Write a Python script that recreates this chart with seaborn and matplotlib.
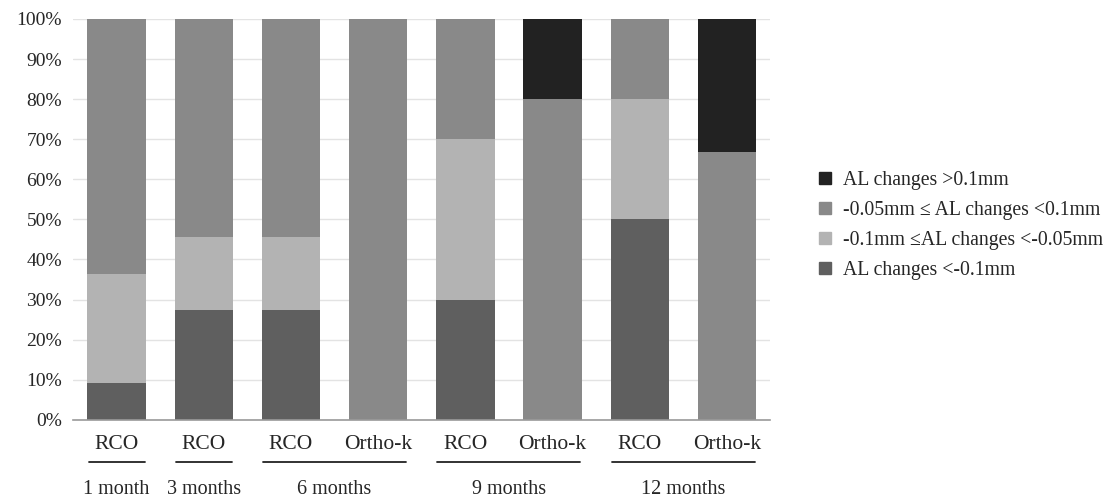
import matplotlib
matplotlib.use("Agg")
import matplotlib.pyplot as plt
import matplotlib.transforms as mtransforms
from matplotlib.lines import Line2D
import seaborn as sns
import pandas as pd
import numpy as np

# ---- data ----
bar_labels = ["RCO", "RCO", "RCO", "Ortho-k", "RCO", "Ortho-k", "RCO", "Ortho-k"]
groups = ["1 month", "3 months", "6 months", "6 months", "9 months", "9 months", "12 months", "12 months"]
series_names = ["AL changes <-0.1mm",
                "-0.1mm \u2264AL changes <-0.05mm",
                "-0.05mm \u2264 AL changes <0.1mm",
                "AL changes >0.1mm"]
s_lt_m01 = [9.1, 27.3, 27.3, 0.0, 30.0, 0.0, 50.0, 0.0]
s_m01_m005 = [27.3, 18.2, 18.2, 0.0, 40.0, 0.0, 30.0, 0.0]
s_m005_01 = [63.6, 54.5, 54.5, 100.0, 30.0, 80.0, 20.0, 66.7]
s_gt_01 = [0.0, 0.0, 0.0, 0.0, 0.0, 20.0, 0.0, 33.3]
colors = ["#5f5f5f", "#b3b3b3", "#898989", "#222222"]

sns.set_style("white")
plt.rcParams['font.family'] = ['Liberation Serif', 'DejaVu Serif']

fig = plt.figure(figsize=(11.07, 4.98), dpi=100)
ax = fig.add_axes([0.066, 0.157, 0.630, 0.805])

keys = [str(i) for i in range(len(bar_labels))]
series = [s_lt_m01, s_m01_m005, s_m005_01, s_gt_01]
cum = np.cumsum(np.array(series), axis=0)

# draw from top (largest cumulative) to bottom so lower segments overlay
for k in range(len(series) - 1, -1, -1):
    df = pd.DataFrame({"bar": keys, "val": cum[k]})
    sns.barplot(data=df, x="bar", y="val", order=keys, color=colors[k],
                saturation=1, width=0.67, ax=ax, zorder=2 + (3 - k) * 0.01,
                edgecolor="none", linewidth=0)

ax.set_ylim(0, 100)
ax.set_xlim(-0.5, len(keys) - 0.5)
ax.set_yticks(np.arange(0, 101, 10))
ax.set_yticklabels([f"{v}%" for v in range(0, 101, 10)], fontsize=14)
ax.yaxis.grid(True, color="#e3e3e3", linewidth=1, zorder=0)
ax.set_axisbelow(True)
ax.set_xlabel("")
ax.set_ylabel("")
ax.set_xticks(range(len(keys)))
ax.set_xticklabels(bar_labels, fontsize=15.5)
ax.tick_params(axis="x", length=0, pad=11)
ax.tick_params(axis="y", length=0, pad=8)
for s in ["top", "right", "left"]:
    ax.spines[s].set_visible(False)
ax.spines["bottom"].set_color("#9a9a9a")
ax.spines["bottom"].set_linewidth(1.2)

# group underline and group labels
trans = mtransforms.blended_transform_factory(ax.transData, ax.transAxes)
uniq = []
for i, g in enumerate(groups):
    if not uniq or uniq[-1][0] != g:
        uniq.append([g, i, i])
    else:
        uniq[-1][2] = i
half = 0.32
for g, a, b in uniq:
    ax.add_line(Line2D([a - half, b + half], [-0.105, -0.105], transform=trans,
                       color="#222222", linewidth=1.3, clip_on=False))
    ax.text((a + b) / 2, -0.174, g, transform=trans, ha="center", va="center",
            fontsize=14.5)

# legend
handles = [Line2D([], [], marker="s", linestyle="none", markersize=8,
                  markerfacecolor=colors[k], markeredgecolor=colors[k])
           for k in range(len(series) - 1, -1, -1)]
labels = [series_names[k] for k in range(len(series) - 1, -1, -1)]
fig.legend(handles, labels, loc="center left", bbox_to_anchor=(0.72, 0.547),
           frameon=False, fontsize=14.2, handletextpad=0.45, labelspacing=0.55,
           handlelength=1.0)

fig.savefig("out.png", dpi=100)
